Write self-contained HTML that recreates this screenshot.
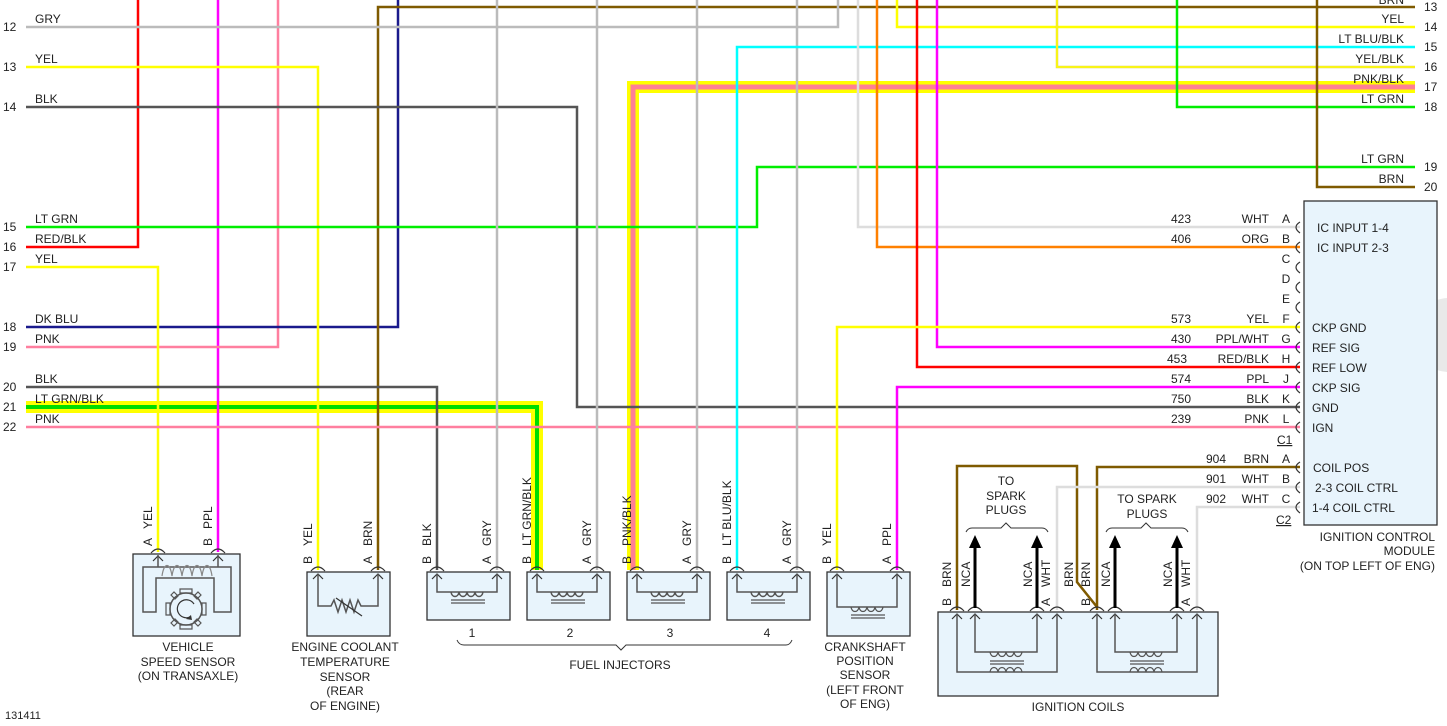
<!DOCTYPE html>
<html><head><meta charset="utf-8"><style>
html,body{margin:0;padding:0;background:#fff;}
svg{display:block;font-family:"Liberation Sans",Arial,sans-serif;font-size:12px;fill:#222;}
</style></head><body>
<svg width="1447" height="726" viewBox="0 0 1447 726" xmlns="http://www.w3.org/2000/svg">
<circle cx="1449" cy="335" r="37" fill="#e9e9e9"/>
<!-- component boxes -->
<g fill="#e8f4fc" stroke="#333" stroke-width="1.3">
<rect x="133" y="554" width="107" height="82"/>
<rect x="307" y="572" width="83" height="64"/>
<rect x="427" y="572" width="83" height="48"/>
<rect x="527" y="572" width="83" height="48"/>
<rect x="627" y="572" width="83" height="48"/>
<rect x="727" y="572" width="83" height="48"/>
<rect x="827" y="572" width="83" height="64"/>
<rect x="938" y="612" width="280" height="84"/>
<rect x="1304" y="201" width="133" height="324"/>
</g>
<!-- highlighted wires -->
<g fill="none" stroke-linejoin="miter">
<path d="M26,407 H537 V570" stroke="#ffff00" stroke-width="12"/>
<path d="M26,407 H537 V570" stroke="#00dd00" stroke-width="4"/>
<path d="M633,570 V87 H1415" stroke="#ffff00" stroke-width="12"/>
<path d="M633,570 V87 H1415" stroke="#ff7f95" stroke-width="5"/>
</g>
<!-- wires -->
<g fill="none" stroke-width="2.5">
<path d="M138,0 V247 H26" stroke="#ff0000"/>
<path d="M218,0 V552" stroke="#ff00ff"/>
<path d="M278,0 V347 H26" stroke="#ff7f9f"/>
<path d="M398,0 V327 H26" stroke="#1a1a8c"/>
<path d="M378,570 V7 H1415" stroke="#7f5a00"/>
<path d="M26,27 H838 V0" stroke="#bbb"/>
<path d="M26,67 H318 V570" stroke="#ffff00"/>
<path d="M26,107 H577 V407 H1300" stroke="#555"/>
<path d="M26,227 H757 V167 H1415" stroke="#00ee00"/>
<path d="M26,267 H158 V552" stroke="#ffff00"/>
<path d="M26,387 H437 V570" stroke="#555"/>
<path d="M26,427 H1300" stroke="#ff7f9f"/>
<path d="M497,0 V570 M597,0 V570 M697,0 V570 M797,0 V570" stroke="#bbb"/>
<path d="M737,570 V47 H1415" stroke="#00ffff"/>
<path d="M858,0 V227 H1300" stroke="#ddd"/>
<path d="M877,0 V247 H1300" stroke="#ff8000"/>
<path d="M897,0 V27 H1415" stroke="#ffff00"/>
<path d="M917,0 V367 H1300" stroke="#ff0000"/>
<path d="M937,0 V347 H1300" stroke="#ff00ff"/>
<path d="M837,570 V327 H1300" stroke="#ffff00"/>
<path d="M897,570 V387 H1300" stroke="#ff00ff"/>
<path d="M1057,0 V67 H1415" stroke="#e0d060"/>
<path d="M1057,0 V67 H1415" stroke="#ffff00" stroke-width="1.5"/>
<path d="M1177,0 V107 H1415" stroke="#00ee00"/>
<path d="M1317,0 V187 H1415" stroke="#7f5a00"/>
<path d="M1300,467 H1097 V610" stroke="#7f5a00"/>
<path d="M957,610 V466 H1077 V582 L1097,607" stroke="#7f5a00"/>
<path d="M1300,487 H1057 V610" stroke="#ddd"/>
<path d="M1300,507 H1197 V610" stroke="#ddd"/>
</g>
<!-- module connector arcs -->
<g fill="none" stroke="#333" stroke-width="1.2">
<path d="M1300,222 Q1292,227 1300,233 M1300,242 Q1292,247 1300,253 M1300,262 Q1292,267 1300,273 M1300,282 Q1292,287 1300,293 M1300,302 Q1292,307 1300,313 M1300,322 Q1292,327 1300,333 M1300,342 Q1292,347 1300,353 M1300,362 Q1292,367 1300,373 M1300,382 Q1292,387 1300,393 M1300,402 Q1292,407 1300,413 M1300,422 Q1292,427 1300,433 M1300,462 Q1292,467 1300,473 M1300,482 Q1292,487 1300,493 M1300,502 Q1292,507 1300,513"/>
</g>
<!-- terminals -->
<g fill="none" stroke="#333" stroke-width="1.2">
<path d="M151,553 Q158,545 165,553 M153,561 L158,556 L163,561 M211,553 Q218,545 225,553 M213,561 L218,556 L223,561"/>
<path d="M311,571 Q318,563 325,571 M313,579 L318,574 L323,579 M371,571 Q378,563 385,571 M373,579 L378,574 L383,579"/>
<path d="M430,571 Q437,563 444,571 M432,579 L437,574 L442,579 M490,571 Q497,563 504,571 M492,579 L497,574 L502,579"/>
<path d="M530,571 Q537,563 544,571 M532,579 L537,574 L542,579 M590,571 Q597,563 604,571 M592,579 L597,574 L602,579"/>
<path d="M630,571 Q637,563 644,571 M632,579 L637,574 L642,579 M690,571 Q697,563 704,571 M692,579 L697,574 L702,579"/>
<path d="M730,571 Q737,563 744,571 M732,579 L737,574 L742,579 M790,571 Q797,563 804,571 M792,579 L797,574 L802,579"/>
<path d="M830,571 Q837,563 844,571 M832,579 L837,574 L842,579 M890,571 Q897,563 904,571 M892,579 L897,574 L902,579"/>
<path d="M950,611 Q957,603 964,611 M952,619 L957,614 L962,619 M968,611 Q975,603 982,611 M970,619 L975,614 L980,619 M1030,611 Q1037,603 1044,611 M1032,619 L1037,614 L1042,619 M1050,611 Q1057,603 1064,611 M1052,619 L1057,614 L1062,619"/>
<path d="M1090,611 Q1097,603 1104,611 M1092,619 L1097,614 L1102,619 M1108,611 Q1115,603 1122,611 M1110,619 L1115,614 L1120,619 M1170,611 Q1177,603 1184,611 M1172,619 L1177,614 L1182,619 M1190,611 Q1197,603 1204,611 M1192,619 L1197,614 L1202,619"/>
</g>
<!-- internals -->
<g fill="none" stroke="#555" stroke-width="1.5">
<path d="M158,555 V567 M218,555 V567 M143,567 H231 V612 H214 V578 H156 V612 H143 Z"/>
<path d="M162,576 c2,-14 8,-14 10,0 c2,-14 8,-14 10,0 c2,-14 8,-14 10,0 c2,-14 8,-14 10,0 c2,-14 8,-14 10,0" stroke="#888" stroke-width="1.2"/>
<circle cx="186" cy="609" r="16"/>
<path d="M180,589 h12 v4 h-12z M180,625 h12 v4 h-12z M166,603 v12 h4 v-12z M202,603 v12 h4 v-12z M171,595 l3,-3 4,4 -3,3z M201,595 l-3,-3 -4,4 3,3z M171,623 l3,3 4,-4 -3,-3z M201,623 l-3,3 -4,-4 3,-3z" stroke-width="1.2"/>
<path d="M194,604 A9,9 0 1 0 190,617" stroke="#333" stroke-width="1.2"/>
<path d="M186,619 l5,-4 1,5z" fill="#333" stroke="none"/>
<path d="M318,574 V606 H331 L334,600 L338,612 L342,600 L346,612 L350,600 L354,612 L358,600 L361,606 H378 V574"/>
<path d="M336,598 L362,616" stroke="#333" stroke-width="1.2"/>
<path d="M437,574 V592 H497 V574 M537,574 V592 H597 V574 M637,574 V592 H697 V574 M737,574 V592 H797 V574"/>
<path d="M451,592 c1,6 7,6 8,0 c1,6 7,6 8,0 c1,6 7,6 8,0 c1,6 7,6 8,0 M551,592 c1,6 7,6 8,0 c1,6 7,6 8,0 c1,6 7,6 8,0 c1,6 7,6 8,0 M651,592 c1,6 7,6 8,0 c1,6 7,6 8,0 c1,6 7,6 8,0 c1,6 7,6 8,0 M751,592 c1,6 7,6 8,0 c1,6 7,6 8,0 c1,6 7,6 8,0 c1,6 7,6 8,0"/>
<path d="M451,600 H485 M451,603 H485 M551,600 H585 M551,603 H585 M651,600 H685 M651,603 H685 M751,600 H785 M751,603 H785" stroke-width="1.3"/>
<path d="M837,574 V607 H897 V574"/>
<path d="M851,607 c1,6 7,6 8,0 c1,6 7,6 8,0 c1,6 7,6 8,0 c1,6 7,6 8,0 M851,615 H885 M851,618 H885" stroke-width="1.3"/>
<path d="M957,614 V672 H1057 V614 M975,614 V652 H1037 V614 M1097,614 V672 H1197 V614 M1115,614 V652 H1177 V614"/>
<path d="M990,652 c1,6 7,6 8,0 c1,6 7,6 8,0 c1,6 7,6 8,0 c1,6 7,6 8,0 M990,661 H1024 M990,664 H1024 M990,672 c1,-6 7,-6 8,0 c1,-6 7,-6 8,0 c1,-6 7,-6 8,0 c1,-6 7,-6 8,0" stroke-width="1.3"/>
<path d="M1130,652 c1,6 7,6 8,0 c1,6 7,6 8,0 c1,6 7,6 8,0 c1,6 7,6 8,0 M1130,661 H1164 M1130,664 H1164 M1130,672 c1,-6 7,-6 8,0 c1,-6 7,-6 8,0 c1,-6 7,-6 8,0 c1,-6 7,-6 8,0" stroke-width="1.3"/>
</g>
<g stroke="#000" stroke-width="3">
<path d="M975,608 V545 M1037,608 V545 M1115,608 V545 M1177,608 V545"/>
</g>
<g fill="#000">
<path d="M969,548 L975,535 L981,548Z M1031,548 L1037,535 L1043,548Z M1109,548 L1115,535 L1121,548Z M1171,548 L1177,535 L1183,548Z"/>
</g>
<g fill="none" stroke="#333" stroke-width="1">
<path d="M966,532 Q968,528 972,528 H1001 L1006,523 L1011,528 H1042 Q1046,528 1048,532"/>
<path d="M1106,532 Q1108,528 1112,528 H1141 L1146,523 L1151,528 H1182 Q1186,528 1188,532"/>
<path d="M457,640 Q459,645 464,645 H616 L621,650 L626,645 H786 Q790,645 792,640"/>
</g>
<g>
<text x="3" y="31">12</text><text x="35" y="23">GRY</text>
<text x="3" y="71">13</text><text x="35" y="63">YEL</text>
<text x="3" y="111">14</text><text x="35" y="103">BLK</text>
<text x="3" y="231">15</text><text x="35" y="223">LT GRN</text>
<text x="3" y="251">16</text><text x="35" y="243">RED/BLK</text>
<text x="3" y="271">17</text><text x="35" y="263">YEL</text>
<text x="3" y="331">18</text><text x="35" y="323">DK BLU</text>
<text x="3" y="351">19</text><text x="35" y="343">PNK</text>
<text x="3" y="391">20</text><text x="35" y="383">BLK</text>
<text x="3" y="411">21</text><text x="35" y="403">LT GRN/BLK</text>
<text x="3" y="431">22</text><text x="35" y="423">PNK</text>
</g>
<g>
<text x="1404" y="4" text-anchor="end">BRN</text><text x="1424" y="11">13</text>
<text x="1404" y="23" text-anchor="end">YEL</text><text x="1424" y="31">14</text>
<text x="1404" y="43" text-anchor="end">LT BLU/BLK</text><text x="1424" y="51">15</text>
<text x="1404" y="63" text-anchor="end">YEL/BLK</text><text x="1424" y="71">16</text>
<text x="1404" y="83" text-anchor="end">PNK/BLK</text><text x="1424" y="91">17</text>
<text x="1404" y="103" text-anchor="end">LT GRN</text><text x="1424" y="111">18</text>
<text x="1404" y="163" text-anchor="end">LT GRN</text><text x="1424" y="171">19</text>
<text x="1404" y="183" text-anchor="end">BRN</text><text x="1424" y="191">20</text>
</g>
<g>
<text x="1181" y="223" text-anchor="middle">423</text><text x="1269" y="223" text-anchor="end">WHT</text><text x="1286" y="223" text-anchor="middle">A</text>
<text x="1181" y="243" text-anchor="middle">406</text><text x="1269" y="243" text-anchor="end">ORG</text><text x="1286" y="243" text-anchor="middle">B</text>
<text x="1286" y="263" text-anchor="middle">C</text>
<text x="1286" y="283" text-anchor="middle">D</text>
<text x="1286" y="303" text-anchor="middle">E</text>
<text x="1181" y="323" text-anchor="middle">573</text><text x="1269" y="323" text-anchor="end">YEL</text><text x="1286" y="323" text-anchor="middle">F</text>
<text x="1181" y="343" text-anchor="middle">430</text><text x="1269" y="343" text-anchor="end">PPL/WHT</text><text x="1286" y="343" text-anchor="middle">G</text>
<text x="1177" y="363" text-anchor="middle">453</text><text x="1269" y="363" text-anchor="end">RED/BLK</text><text x="1286" y="363" text-anchor="middle">H</text>
<text x="1181" y="383" text-anchor="middle">574</text><text x="1269" y="383" text-anchor="end">PPL</text><text x="1286" y="383" text-anchor="middle">J</text>
<text x="1181" y="403" text-anchor="middle">750</text><text x="1269" y="403" text-anchor="end">BLK</text><text x="1286" y="403" text-anchor="middle">K</text>
<text x="1181" y="423" text-anchor="middle">239</text><text x="1269" y="423" text-anchor="end">PNK</text><text x="1286" y="423" text-anchor="middle">L</text>
<text x="1277" y="444" text-decoration="underline">C1</text>
<text x="1216" y="463" text-anchor="middle">904</text><text x="1269" y="463" text-anchor="end">BRN</text><text x="1286" y="463" text-anchor="middle">A</text>
<text x="1216" y="483" text-anchor="middle">901</text><text x="1269" y="483" text-anchor="end">WHT</text><text x="1286" y="483" text-anchor="middle">B</text>
<text x="1216" y="503" text-anchor="middle">902</text><text x="1269" y="503" text-anchor="end">WHT</text><text x="1286" y="503" text-anchor="middle">C</text>
<text x="1276" y="524" text-decoration="underline">C2</text>
</g>
<g>
<text x="1317" y="232">IC INPUT 1-4</text>
<text x="1317" y="252">IC INPUT 2-3</text>
<text x="1312" y="332">CKP GND</text>
<text x="1312" y="352">REF SIG</text>
<text x="1312" y="372">REF LOW</text>
<text x="1312" y="392">CKP SIG</text>
<text x="1312" y="412">GND</text>
<text x="1312" y="432">IGN</text>
<text x="1313" y="472">COIL POS</text>
<text x="1315" y="492">2-3 COIL CTRL</text>
<text x="1312" y="512">1-4 COIL CTRL</text>
<text x="1435" y="541" text-anchor="end">IGNITION CONTROL</text>
<text x="1435" y="555" text-anchor="end">MODULE</text>
<text x="1435" y="570" text-anchor="end">(ON TOP LEFT OF ENG)</text>
</g>
<g>
<text transform="translate(152,546) rotate(-90)">A</text><text transform="translate(152,529) rotate(-90)">YEL</text>
<text transform="translate(212,546) rotate(-90)">B</text><text transform="translate(212,529) rotate(-90)">PPL</text>
<text transform="translate(312,564) rotate(-90)">B</text><text transform="translate(312,546) rotate(-90)">YEL</text>
<text transform="translate(372,564) rotate(-90)">A</text><text transform="translate(372,546) rotate(-90)">BRN</text>
<text transform="translate(431,564) rotate(-90)">B</text><text transform="translate(431,546) rotate(-90)">BLK</text>
<text transform="translate(491,564) rotate(-90)">A</text><text transform="translate(491,546) rotate(-90)">GRY</text>
<text transform="translate(531,564) rotate(-90)">B</text><text transform="translate(531,546) rotate(-90)">LT GRN/BLK</text>
<text transform="translate(591,564) rotate(-90)">A</text><text transform="translate(591,546) rotate(-90)">GRY</text>
<text transform="translate(631,564) rotate(-90)">B</text><text transform="translate(631,546) rotate(-90)">PNK/BLK</text>
<text transform="translate(691,564) rotate(-90)">A</text><text transform="translate(691,546) rotate(-90)">GRY</text>
<text transform="translate(731,564) rotate(-90)">B</text><text transform="translate(731,546) rotate(-90)">LT BLU/BLK</text>
<text transform="translate(791,564) rotate(-90)">A</text><text transform="translate(791,546) rotate(-90)">GRY</text>
<text transform="translate(831,564) rotate(-90)">B</text><text transform="translate(831,546) rotate(-90)">YEL</text>
<text transform="translate(891,564) rotate(-90)">A</text><text transform="translate(891,546) rotate(-90)">PPL</text>
<text transform="translate(951,606) rotate(-90)">B</text><text transform="translate(951,587) rotate(-90)">BRN</text>
<text transform="translate(970,587) rotate(-90)">NCA</text>
<text transform="translate(1032,587) rotate(-90)">NCA</text>
<text transform="translate(1050,606) rotate(-90)">A</text><text transform="translate(1050,587) rotate(-90)">WHT</text>
<text transform="translate(1073,587) rotate(-90)">BRN</text>
<text transform="translate(1090,606) rotate(-90)">B</text><text transform="translate(1090,587) rotate(-90)">BRN</text>
<text transform="translate(1110,587) rotate(-90)">NCA</text>
<text transform="translate(1172,587) rotate(-90)">NCA</text>
<text transform="translate(1190,606) rotate(-90)">A</text><text transform="translate(1190,587) rotate(-90)">WHT</text>
</g>
<g text-anchor="middle">
<text x="472" y="637">1</text><text x="570" y="637">2</text><text x="670" y="637">3</text><text x="767" y="637">4</text>
<text x="620" y="669">FUEL INJECTORS</text>
<text x="188" y="651">VEHICLE</text><text x="188" y="666">SPEED SENSOR</text><text x="188" y="680">(ON TRANSAXLE)</text>
<text x="345" y="651">ENGINE COOLANT</text><text x="345" y="666">TEMPERATURE</text><text x="345" y="681">SENSOR</text><text x="345" y="695">(REAR</text><text x="345" y="710">OF ENGINE)</text>
<text x="865" y="651">CRANKSHAFT</text><text x="865" y="665">POSITION</text><text x="865" y="679">SENSOR</text><text x="865" y="694">(LEFT FRONT</text><text x="865" y="708">OF ENG)</text>
<text x="1078" y="711">IGNITION COILS</text>
<text x="1006" y="485">TO</text><text x="1006" y="500">SPARK</text><text x="1006" y="514">PLUGS</text>
<text x="1147" y="503">TO SPARK</text><text x="1147" y="518">PLUGS</text>
</g>
<text x="5" y="719" font-size="11">131411</text>
</svg>
</body></html>
